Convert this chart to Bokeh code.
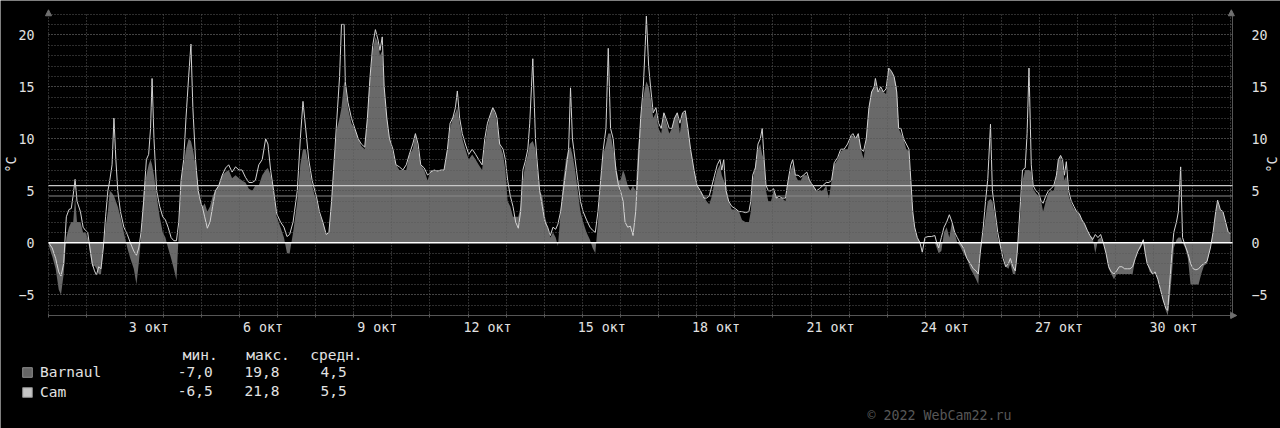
import math
from bokeh.plotting import figure
from bokeh.models import (Range1d, FixedTicker, LinearAxis, Grid, Label,
                          Legend, LegendItem, Arrow, NormalHead)
from bokeh.embed import file_html
from bokeh.resources import INLINE

# time of each reading, in days since 1 Oct 00:00
t_days = [
    0.00, 0.09, 0.18, 0.26, 0.32, 0.39, 0.46, 0.53, 0.59, 0.64, 0.69, 0.74, 0.83, 0.90, 0.96,
    1.02, 1.08, 1.14, 1.20, 1.25, 1.31, 1.37, 1.43, 1.49, 1.55, 1.60, 1.66, 1.71, 1.76, 1.81, 1.88, 1.97,
    2.06, 2.14, 2.23, 2.30, 2.36, 2.42, 2.49, 2.56, 2.62, 2.67, 2.71, 2.76, 2.83, 2.91, 2.99,
    3.06, 3.13, 3.21, 3.28, 3.35, 3.41, 3.47, 3.54, 3.60, 3.67, 3.73, 3.78, 3.85, 3.92, 3.98,
    4.04, 4.09, 4.16, 4.23, 4.30, 4.37, 4.46, 4.55, 4.64, 4.72, 4.81, 4.90, 4.99,
    5.07, 5.16, 5.25, 5.34, 5.42, 5.51, 5.60, 5.69, 5.75, 5.82, 5.90, 5.98,
    6.08, 6.17, 6.25, 6.32, 6.41, 6.52, 6.60, 6.67, 6.74, 6.82, 6.91, 6.98,
    7.02, 7.10, 7.19, 7.28, 7.35, 7.42, 7.49, 7.56, 7.63, 7.68, 7.75, 7.78, 7.85, 7.94,
    8.03, 8.12, 8.20, 8.29, 8.36, 8.43, 8.50, 8.57, 8.64, 8.69, 8.75, 8.80, 8.87, 8.94,
    9.03, 9.11, 9.20, 9.29, 9.38, 9.46, 9.55, 9.62, 9.69, 9.76, 9.85, 9.94,
    10.02, 10.11, 10.20, 10.29, 10.37, 10.46, 10.53, 10.60, 10.67, 10.72, 10.78, 10.85, 10.93,
    11.02, 11.11, 11.20, 11.28, 11.37, 11.44, 11.51, 11.60, 11.65, 11.72, 11.76, 11.83, 11.92, 11.98,
    12.04, 12.11, 12.18, 12.25, 12.32, 12.38, 12.44, 12.50, 12.57, 12.62, 12.70, 12.77, 12.81, 12.88, 12.95,
    13.02, 13.09, 13.16, 13.23, 13.30, 13.36, 13.43, 13.50, 13.57, 13.64, 13.69, 13.74, 13.81, 13.88, 13.95,
    14.02, 14.11, 14.20, 14.27, 14.34, 14.41, 14.48, 14.55, 14.62, 14.68, 14.74, 14.81, 14.88, 14.95,
    15.00, 15.07, 15.12, 15.19, 15.26, 15.33, 15.40, 15.46, 15.53, 15.60, 15.65, 15.68, 15.74, 15.79, 15.86, 15.93,
    16.00, 16.07, 16.14, 16.21, 16.28, 16.35, 16.42, 16.49, 16.56, 16.63, 16.70, 16.77, 16.84, 16.93,
    17.01, 17.10, 17.19, 17.26, 17.33, 17.40, 17.47, 17.54, 17.61, 17.66, 17.71, 17.77, 17.84, 17.92,
    18.01, 18.11, 18.19, 18.28, 18.37, 18.42, 18.47, 18.54, 18.61, 18.67, 18.72, 18.77, 18.82, 18.88, 18.95,
    19.02, 19.09, 19.16, 19.24, 19.33, 19.40, 19.47, 19.52, 19.59, 19.66, 19.73, 19.80, 19.89, 19.96,
    20.05, 20.14, 20.22, 20.31, 20.40, 20.47, 20.54, 20.61, 20.70, 20.78, 20.87, 20.96,
    21.05, 21.10, 21.17, 21.24, 21.31, 21.38, 21.45, 21.52, 21.59, 21.66, 21.69, 21.76, 21.83, 21.90, 21.97,
    22.04, 22.11, 22.18, 22.25, 22.30, 22.36, 22.43, 22.50, 22.57, 22.62, 22.67, 22.72, 22.79, 22.86, 22.92, 22.99,
    23.07, 23.16, 23.25, 23.30, 23.35, 23.42, 23.49, 23.56, 23.63, 23.70, 23.77, 23.84, 23.91,
    24.00, 24.09, 24.18, 24.26, 24.33, 24.39, 24.44, 24.52, 24.58, 24.64, 24.71, 24.76, 24.83, 24.90, 24.97,
    25.04, 25.11, 25.18, 25.23, 25.30, 25.36, 25.41, 25.48, 25.55, 25.62, 25.67, 25.72, 25.78, 25.83, 25.90, 25.97,
    26.04, 26.09, 26.16, 26.23, 26.30, 26.37, 26.44, 26.49, 26.55, 26.60, 26.65, 26.70, 26.76, 26.83, 26.90, 26.97,
    27.04, 27.11, 27.18, 27.25, 27.32, 27.39, 27.46, 27.53, 27.60, 27.67, 27.74, 27.81, 27.88, 27.95,
    28.02, 28.09, 28.16, 28.23, 28.30, 28.37, 28.44, 28.51, 28.58, 28.65, 28.72, 28.77, 28.82, 28.89, 28.96,
    29.03, 29.10, 29.17, 29.24, 29.31, 29.36, 29.41, 29.47, 29.52, 29.59, 29.64, 29.70, 29.75, 29.82, 29.89, 29.96,
    30.03, 30.10, 30.17, 30.24, 30.31, 30.39, 30.48, 30.55, 30.62, 30.67, 30.74, 30.81, 30.88, 30.95, 31.01,
]

cam = [
    0.0, -0.5, -1.5, -2.8, -3.2, -2.0, 2.5, 3.2, 3.3, 4.6, 6.1, 4.0, 3.0, 1.5, 1.2,
    1.0, -0.5, -2.0, -2.7, -3.1, -2.3, -2.5, -0.5, 2.5, 5.0, 6.0, 7.5, 12.0, 8.0, 5.0, 3.0, 1.5,
    0.8, 0.0, -0.8, -1.2, -0.5, 1.0, 4.0, 8.0, 8.5, 11.0, 15.8, 10.0, 5.0, 3.5, 2.5,
    2.2, 1.5, 0.5, 0.2, 0.2, 2.0, 6.0, 8.0, 12.0, 16.0, 19.1, 13.0, 8.0, 5.0, 4.0,
    3.3, 2.5, 1.4, 2.0, 3.5, 5.0, 5.5, 6.5, 7.2, 7.5, 6.8, 7.3, 7.0,
    7.0, 6.3, 5.8, 5.8, 6.0, 7.5, 8.0, 10.0, 9.5, 7.0, 5.0, 2.8,
    2.0, 1.5, 0.6, 0.8, 2.0, 5.0, 10.0, 13.6, 11.0, 8.0, 6.0, 5.0,
    4.5, 3.0, 2.0, 0.8, 1.0, 4.0, 8.0, 12.0, 16.0, 21.0, 21.0, 15.5, 13.5, 12.0,
    11.0, 10.0, 9.5, 9.2, 12.0, 16.0, 19.0, 20.5, 19.5, 18.5, 19.8, 15.0, 12.0, 10.0,
    9.0, 7.5, 7.3, 7.0, 7.5, 8.5, 9.5, 10.5, 9.5, 7.5, 7.2, 6.5,
    6.8, 7.0, 6.9, 7.0, 7.0, 9.0, 11.5, 12.0, 13.0, 14.6, 12.0, 10.5, 9.5,
    8.5, 9.0, 8.5, 8.0, 7.5, 10.0, 11.5, 12.5, 13.0, 12.5, 12.0, 9.5, 9.0, 8.0,
    6.0, 4.5, 3.5, 2.0, 1.4, 3.0, 7.0, 7.8, 9.0, 11.5, 17.7, 10.0, 8.0, 5.0, 3.5,
    2.0, 1.5, 0.7, 1.5, 1.3, 1.8, 3.0, 5.0, 7.0, 9.0, 14.9, 10.0, 8.0, 6.0, 4.0,
    3.0, 2.2, 1.5, 1.2, 1.0, 3.0, 6.0, 9.0, 11.0, 18.7, 11.0, 10.0, 7.0, 5.5,
    5.0, 4.0, 2.0, 1.5, 1.6, 0.7, 3.0, 7.0, 12.0, 15.0, 19.0, 21.8, 17.0, 15.0, 12.5, 13.0,
    11.5, 11.0, 12.5, 11.8, 11.0, 11.0, 12.0, 12.5, 11.5, 12.5, 12.7, 11.0, 9.0, 7.0,
    5.5, 5.0, 4.3, 4.3, 4.5, 5.5, 6.5, 7.5, 8.0, 7.0, 8.0, 5.0, 4.0, 3.5,
    3.3, 3.0, 3.0, 2.9, 3.0, 4.0, 6.5, 7.2, 9.5, 10.0, 11.0, 8.0, 5.5, 5.0, 5.0,
    5.2, 4.3, 4.5, 4.3, 4.3, 6.0, 7.5, 8.0, 6.5, 6.5, 6.3, 6.5, 6.8, 6.0,
    5.5, 5.0, 5.2, 5.5, 5.8, 5.8, 6.0, 7.7, 8.2, 9.0, 9.0, 9.5,
    10.3, 10.5, 10.0, 10.5, 9.0, 8.8, 10.0, 13.0, 14.5, 15.0, 15.8, 14.5, 15.0, 14.5, 14.8,
    16.8, 16.5, 16.0, 14.5, 11.0, 11.0, 10.0, 9.5, 9.0, 6.0, 3.0, 1.5, 0.5, 0.0, -0.9, 0.5,
    0.6, 0.6, 0.7, 0.0, -0.5, 0.5, 1.5, 2.0, 2.7, 2.0, 1.0, 0.5, 0.0,
    -0.5, -1.5, -2.0, -2.5, -2.7, -3.0, -1.0, 1.5, 4.0, 6.2, 11.4, 5.0, 3.0, 1.0, -0.3,
    -1.5, -2.3, -2.0, -1.5, -2.3, -2.7, -1.0, 3.0, 7.0, 7.2, 10.5, 16.8, 7.5, 5.5, 5.0, 4.8,
    4.0, 3.8, 4.5, 5.0, 5.2, 5.5, 6.5, 8.0, 8.4, 8.0, 6.5, 7.8, 5.0, 4.0, 3.5, 3.0,
    2.8, 2.2, 1.8, 1.2, 0.7, 0.3, 0.8, 0.5, 0.8, 0.0, -1.0, -2.3, -2.8, -3.0,
    -2.7, -2.3, -2.3, -2.5, -2.5, -2.5, -2.3, -1.5, -0.8, -0.3, 0.3, -1.0, -2.0, -2.5, -3.0,
    -2.8, -3.5, -4.5, -5.5, -6.3, -6.5, -4.0, -1.0, 1.0, 2.0, 3.0, 7.3, 0.5, -0.3, -1.0, -2.0,
    -2.5, -2.6, -2.5, -2.2, -2.0, -1.8, -0.5, 1.0, 3.0, 4.1, 3.2, 3.0, 2.0, 1.0, 0.9,
]

barnaul = [
    -0.3, -1.3, -2.5, -4.5, -5.0, -3.0, 0.5, 1.5, 2.0, 2.0, 4.3, 2.0, 2.0, 1.0, 1.0,
    0.5, -1.0, -2.3, -2.2, -2.5, -3.0, -3.0, -0.5, 1.5, 3.0, 5.0, 4.8, 4.5, 4.0, 3.5, 2.5, 1.0,
    -0.5, -1.5, -2.5, -4.0, -2.0, 0.5, 5.0, 6.5, 7.5, 8.0, 7.5, 6.5, 4.5, 2.5, 1.0,
    0.5, -0.5, -1.5, -2.5, -3.6, 1.0, 6.0, 7.5, 9.0, 10.0, 9.8, 9.0, 7.5, 5.5, 4.0,
    3.5, 3.8, 3.0, 3.5, 4.5, 5.0, 5.5, 6.5, 6.8, 7.0, 6.2, 6.5, 6.2,
    6.0, 5.8, 5.2, 5.0, 5.5, 5.5, 6.5, 7.0, 7.2, 6.5, 5.0, 2.5,
    1.5, 0.5, -1.0, -1.0, 1.0, 4.0, 7.5, 9.0, 9.0, 7.5, 5.5, 4.5,
    4.2, 2.8, 2.0, 0.8, 1.0, 4.0, 8.0, 11.0, 12.0, 13.0, 15.5, 15.3, 13.0, 11.5,
    11.0, 10.0, 9.3, 9.0, 12.0, 16.0, 18.5, 19.8, 19.2, 18.0, 18.5, 15.0, 12.0, 10.0,
    8.7, 7.5, 7.0, 7.0, 7.0, 8.5, 9.0, 10.5, 9.0, 7.5, 7.0, 6.0,
    7.0, 7.0, 7.0, 7.0, 7.0, 9.0, 11.0, 12.0, 12.5, 13.0, 11.5, 10.0, 9.0,
    8.0, 8.5, 8.0, 7.5, 7.0, 9.5, 11.0, 12.5, 13.0, 12.3, 11.5, 9.5, 8.5, 7.0,
    4.0, 3.5, 2.5, 2.5, 2.5, 3.5, 6.0, 7.5, 8.5, 9.5, 9.8, 9.0, 7.5, 5.0, 4.5,
    2.5, 1.5, 0.5, 1.0, 0.5, -0.3, 3.0, 6.0, 8.0, 9.0, 9.2, 8.5, 7.0, 5.0, 3.0,
    2.0, 1.0, 0.3, -0.5, -1.0, 2.0, 6.0, 8.5, 9.5, 10.5, 10.5, 9.0, 7.5, 6.0,
    6.0, 7.0, 6.5, 5.5, 5.0, 5.5, 5.0, 9.0, 12.0, 14.0, 15.0, 15.5, 15.0, 14.0, 12.0, 12.5,
    11.0, 10.5, 12.5, 11.5, 10.5, 11.0, 12.0, 12.5, 10.5, 12.5, 12.5, 11.0, 9.0, 7.0,
    5.5, 5.0, 4.5, 4.0, 3.7, 4.5, 6.0, 7.0, 7.5, 6.5, 6.0, 5.5, 4.0, 3.2,
    3.2, 3.0, 2.2, 2.0, 2.0, 3.0, 6.0, 7.5, 9.0, 9.5, 8.5, 8.0, 5.0, 4.0, 4.0,
    5.0, 4.5, 4.3, 4.3, 4.0, 6.0, 7.0, 7.5, 6.5, 6.0, 6.0, 6.5, 6.5, 6.0,
    5.5, 5.0, 5.0, 5.0, 5.5, 4.3, 6.0, 7.5, 8.0, 8.8, 9.0, 9.0,
    10.3, 10.3, 10.0, 10.5, 9.0, 8.1, 10.0, 13.0, 14.5, 15.0, 15.5, 14.5, 14.8, 14.5, 14.3,
    16.8, 16.5, 16.0, 15.0, 11.0, 10.5, 10.0, 9.0, 8.8, 6.0, 3.0, 1.5, 0.5, 0.0, 0.0, 0.0,
    0.0, 0.0, 0.0, -0.5, -1.0, -0.8, 1.0, 1.5, 0.5, 2.0, 1.0, 0.0, -0.3,
    -1.0, -1.5, -2.5, -3.0, -3.5, -4.0, -1.0, 1.0, 2.5, 4.0, 4.2, 4.0, 2.5, 0.5, -0.5,
    -1.0, -2.3, -2.5, -2.0, -3.0, -3.0, -1.0, 2.0, 6.0, 7.0, 7.0, 7.0, 6.8, 5.2, 4.8, 4.5,
    4.0, 3.0, 4.0, 4.8, 5.0, 5.0, 6.5, 8.0, 8.4, 7.5, 6.0, 6.5, 4.5, 3.8, 3.3, 3.0,
    2.8, 2.2, 1.8, 1.2, 0.7, 0.5, -1.0, 0.3, 0.5, 0.0, -1.0, -2.5, -3.0, -3.5,
    -3.0, -3.0, -3.0, -3.0, -3.0, -3.0, -3.0, -1.5, -0.8, -0.5, 0.0, -1.0, -2.0, -2.8, -3.0,
    -3.0, -3.5, -4.5, -5.5, -6.5, -7.0, -5.5, -3.0, -0.5, 0.3, 0.5, 0.5, 0.0, -0.5, -1.5, -4.0,
    -4.0, -4.0, -4.0, -3.0, -2.2, -2.0, -0.5, 1.0, 3.0, 4.0, 3.2, 3.0, 2.0, 1.0, 0.9,
]

series_names = ["Barnaul", "Cam"]
stat_headers = ["мин.", "макс.", "средн."]
barnaul_stats = [-7.0, 19.8, 4.5]   # min, max, avg
cam_stats = [-6.5, 21.8, 5.5]
label_days = [3, 6, 9, 12, 15, 18, 21, 24, 27, 30]
month_name = "окт"
y_major = [-5, 0, 5, 10, 15, 20]
unit = "°C"
copyright_text = "© 2022 WebCam22.ru"

# ---------------------------------------------------------------- geometry / styling
W, H = 1280, 428
PX_DAY, T0_PX = 38.11, 48.3        # pixels per day, pixel of t = 0
PX_DEG, Z_PX = 10.4, 242.3         # pixels per degree, pixel of 0 degrees
GRAPH_L, GRAPH_R, GRAPH_T, GRAPH_B = 48, 1232, 12, 315

def tx(px):
    return (px - T0_PX) / PX_DAY

def ty(py):
    return (Z_PX - py) / PX_DEG

X0, X1 = tx(GRAPH_L), tx(GRAPH_R)
Y0, Y1 = ty(GRAPH_B), ty(GRAPH_T)

MONO = "DejaVu Sans Mono"
TXT = "#e2e2e2"
GRID = "#5a5a5a"
AXIS = "#555555"
AREA = "#696969"
LINE = "#d4d4d4"

p = figure(width=W, height=H, output_backend="svg", toolbar_location=None,
           x_range=Range1d(tx(0), tx(W)), y_range=Range1d(ty(H), ty(0)),
           x_axis_type=None, y_axis_type=None, min_border=0,
           background_fill_color="black", border_fill_color="black",
           outline_line_color=None)

day_lines = list(range(0, 32))
y_minor = list(range(-6, 23))
xgrid = Grid(dimension=0, ticker=FixedTicker(ticks=day_lines),
             grid_line_color=GRID, grid_line_dash="1 2", level="annotation")
ygrid = Grid(dimension=1, ticker=FixedTicker(ticks=y_major, minor_ticks=y_minor),
             grid_line_color=GRID, grid_line_dash="1 2",
             minor_grid_line_color=GRID, minor_grid_line_dash="1 2", level="annotation")
grid_ok = True
try:
    xgrid.cross_bounds = (Y0, Y1)
    ygrid.cross_bounds = (X0, X1)
except Exception:
    grid_ok = False
if grid_ok:
    p.add_layout(xgrid)
    p.add_layout(ygrid)

# data
p.varea(x=t_days, y1=0, y2=barnaul, fill_color=AREA)
p.line(t_days, cam, line_color=LINE, line_width=1)

if not grid_ok:
    p.segment(x0=day_lines, x1=day_lines, y0=Y0, y1=Y1, line_color=GRID, line_dash="1 2")
    p.segment(x0=X0, x1=X1, y0=y_minor, y1=y_minor, line_color=GRID, line_dash="1 2")

# average lines and zero line (limited to the graph area)
p.segment(x0=[X0], x1=[X1], y0=[barnaul_stats[2]], y1=[barnaul_stats[2]],
          line_color="#8a8a8a", line_width=1, level="overlay")
p.segment(x0=[X0], x1=[X1], y0=[cam_stats[2]], y1=[cam_stats[2]],
          line_color="#c8c8c8", line_width=1.2, level="overlay")
p.segment(x0=[X0], x1=[X1], y0=[0], y1=[0], line_color="#ffffff", line_width=1.5, level="overlay")

# time axis, fixed at the bottom of the graph; labels centred at noon
def label_pos(d):
    return (d - 1) + 0.51 + (0.11 if d < 10 else 0.0)

label_t = [label_pos(d) for d in label_days]
xaxis = LinearAxis(ticker=FixedTicker(ticks=label_t, minor_ticks=day_lines),
                   major_label_overrides={lt: f"{d} {month_name}" for lt, d in zip(label_t, label_days)},
                   fixed_location=Y0, bounds=(X0, X1),
                   axis_line_color=AXIS, major_tick_line_color=None,
                   minor_tick_line_color=AXIS, minor_tick_in=2, minor_tick_out=2,
                   major_label_text_font=MONO, major_label_text_font_size="13.3px",
                   major_label_text_color=TXT, major_label_standoff=-2)
p.add_layout(xaxis, "below")

for side, loc, standoff, line_col in (("left", X0, 8, None), ("right", X1, 13, AXIS)):
    ax = LinearAxis(ticker=FixedTicker(ticks=y_major, minor_ticks=y_minor),
                    fixed_location=loc, bounds=(Y0, Y1),
                    axis_line_color=line_col, major_tick_line_color=None,
                    minor_tick_line_color=None,
                    major_label_text_font=MONO, major_label_text_font_size="13.3px",
                    major_label_text_color=TXT, major_label_standoff=standoff)
    p.add_layout(ax, side)

# axis arrows
for xs, ys, xe, ye in ((X0, Y1 - 0.4, X0, Y1 + 0.26),
                       (X1 - 0.03, Y1 - 0.4, X1 - 0.03, Y1 + 0.26),
                       (X1 - 0.3, Y0, X1 + 0.11, Y0)):
    p.add_layout(Arrow(end=NormalHead(size=6, fill_color="#707070", line_color="#707070"),
                       x_start=xs, y_start=ys, x_end=xe, y_end=ye, line_color=None))

# text helpers in page pixels (screen units are measured from the bottom-left of the frame)
def txt(x, y, s, color=TXT, size="14.5px", align="left", baseline="alphabetic", angle=0.0):
    p.add_layout(Label(x=x, y=H - y, x_units="screen", y_units="screen", text=s,
                       text_font=MONO, text_font_size=size, text_color=color,
                       text_baseline=baseline, text_align=align, angle=angle))

txt(11, 164, unit, size="13.3px", align="center", baseline="middle", angle=math.pi / 2)
txt(1271.7, 164, unit, size="13.3px", align="center", baseline="middle", angle=math.pi / 2)

# legend keys (hidden renderers only give the legend its square swatches)
r_b = p.quad(left=[X0], right=[X0], top=[0], bottom=[0], fill_color="#666666",
             line_color="#8e8e8e", visible=False)
r_c = p.quad(left=[X0], right=[X0], top=[0], bottom=[0], fill_color="#c6c6c6",
             line_color="#8e8e8e", visible=False)
legend = Legend(items=[LegendItem(label=series_names[0], renderers=[r_b]),
                       LegendItem(label=series_names[1], renderers=[r_c])],
                location=(21, H - 399.5), orientation="vertical",
                glyph_width=12, glyph_height=12, label_height=12, spacing=4,
                padding=0, margin=0, label_standoff=7,
                border_line_color=None, background_fill_alpha=0, inactive_fill_alpha=0,
                label_text_font=MONO, label_text_font_size="14.5px", label_text_color=TXT)
p.add_layout(legend)

def fmt(v):
    return f"{v:.1f}".replace(".", ",")

for hx, h in zip([182.3, 245.7, 309.7], stat_headers):
    txt(hx, 354.3, h)
for row_y, stats in ((371.2, barnaul_stats), (390.7, cam_stats)):
    for vx, v in zip([177.3, 244.0, 320.0], stats):
        txt(vx, row_y, fmt(v))
txt(867.0, 414.8, copyright_text, color="#575757", size="13.3px")

open("out.html", "w").write(file_html(p, INLINE))
